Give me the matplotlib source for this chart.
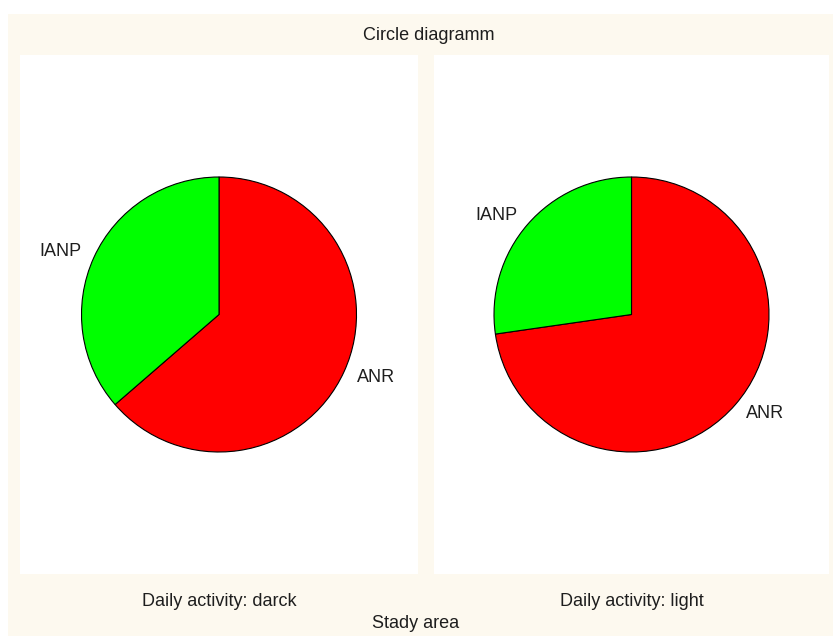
import matplotlib
matplotlib.use("Agg")
import matplotlib.pyplot as plt
from matplotlib.patches import Rectangle

plt.rcParams["font.family"] = ["Liberation Sans", "DejaVu Sans"]

# shares per daily activity group
categories = ["ANR", "IANP"]
darck_counts = [7, 4]
light_counts = [8, 3]
panel_titles = ["Daily activity: darck", "Daily activity: light"]
slice_colors = ["#ff0000", "#00ff00"]

W, H = 833, 636
fig = plt.figure(figsize=(W / 100, H / 100), dpi=100, facecolor="white")

# cream page behind the panels
fig.patches.append(Rectangle((8 / W, 0), 1 - 8 / W, 1 - 14 / H, transform=fig.transFigure,
                             facecolor="#fdf9ef", edgecolor="none", zorder=-1))


def px_box(x0, y0, x1, y1):
    return [x0 / W, 1 - y1 / H, (x1 - x0) / W, (y1 - y0) / H]


radius_px = 137.5
fs = 13
panels = [(20, 55, 418, 574), (434, 55, 829, 574)]
for (x0, y0, x1, y1), counts, title in zip(panels, [darck_counts, light_counts], panel_titles):
    ax = fig.add_axes(px_box(x0, y0, x1, y1))
    ax.pie(counts, labels=categories, colors=slice_colors, startangle=90, counterclock=False,
           labeldistance=1.1, wedgeprops=dict(edgecolor="black", linewidth=0.8),
           textprops=dict(fontsize=fs, color="#1e1e1e"))
    hw = (x1 - x0) / 2 / radius_px
    hh = (y1 - y0) / 2 / radius_px
    ax.set_xlim(-hw, hw)
    ax.set_ylim(-hh, hh)
    ax.set_aspect("auto")
    ax.axis("off")
    ax.add_patch(Rectangle((0, 0), 1, 1, transform=ax.transAxes, facecolor="white",
                           edgecolor="none", zorder=-5))
    fig.text((x0 + x1) / 2 / W, 1 - 601 / H, title, ha="center", va="center",
             fontsize=fs, color="#1e1e1e")

fig.text(429 / W, 1 - 36 / H, "Circle diagramm", ha="center", va="center",
         fontsize=fs, color="#1e1e1e")
fig.text(416 / W, 1 - 623 / H, "Stady area", ha="center", va="center",
         fontsize=fs, color="#1e1e1e")

fig.savefig("out.png", dpi=100, facecolor=fig.get_facecolor())
